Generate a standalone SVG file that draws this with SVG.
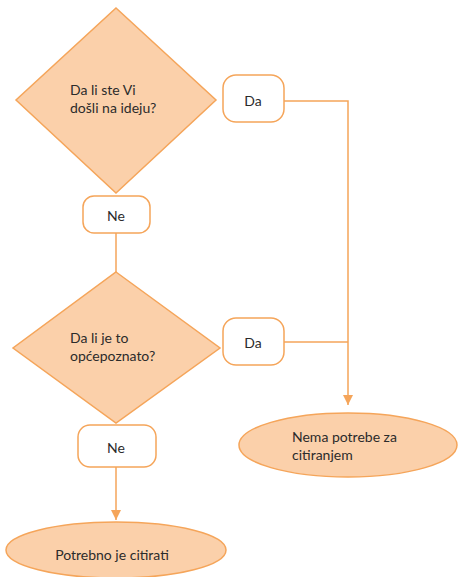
<svg xmlns="http://www.w3.org/2000/svg" width="458" height="577" viewBox="0 0 458 577">
<defs>
<style>
.sh{fill:#FBD0AA;stroke:#F5A55A;stroke-width:1.5}
.bx{fill:#FFFFFF;stroke:#F5A55A;stroke-width:1.5}
.ln{fill:none;stroke:#F5A55A;stroke-width:1.5}
text{font-family:Lato,"Open Sans",sans-serif;font-size:14px;fill:#2B2B2B}
.c{text-anchor:middle}
</style>
<marker id="ah" markerWidth="10" markerHeight="10" refX="10" refY="5" orient="auto" markerUnits="userSpaceOnUse">
<path d="M0,0 L10,5 L0,10 Z" fill="#F5A55A"/>
</marker>
</defs>
<g id="connectors">
<path class="ln" d="M284,101 H348 V405" marker-end="url(#ah)"/>
<path class="ln" d="M284,342 H348"/>
<path class="ln" d="M116,233 V272"/>
<path class="ln" d="M116,467 V520" marker-end="url(#ah)"/>
</g>
<g id="q1">
<polygon class="sh" points="116,8 216,100 116,193 16,100"/>
<text x="70" y="95">Da li ste Vi</text>
<text x="70" y="113">došli na ideju?</text>
</g>
<g id="da1">
<rect class="bx" x="223" y="75" width="61" height="47" rx="13"/>
<text class="c" x="253" y="106">Da</text>
</g>
<g id="ne1">
<rect class="bx" x="83" y="196" width="67" height="37" rx="11"/>
<text class="c" x="116" y="221">Ne</text>
</g>
<g id="q2">
<polygon class="sh" points="116,272 220,348 116,423 13,348"/>
<text x="70" y="343">Da li je to</text>
<text x="70" y="361">općepoznato?</text>
</g>
<g id="da2">
<rect class="bx" x="223" y="318" width="61" height="47" rx="13"/>
<text class="c" x="253" y="348">Da</text>
</g>
<g id="ne2">
<rect class="bx" x="78" y="425" width="78" height="42" rx="12"/>
<text class="c" x="116" y="453">Ne</text>
</g>
<g id="end1">
<ellipse class="sh" cx="348" cy="445" rx="109" ry="32"/>
<text x="292" y="442">Nema potrebe za</text>
<text x="292" y="460">citiranjem</text>
</g>
<g id="end2">
<ellipse class="sh" cx="116" cy="550" rx="110" ry="28"/>
<text class="c" x="112" y="560">Potrebno je citirati</text>
</g>
</svg>
